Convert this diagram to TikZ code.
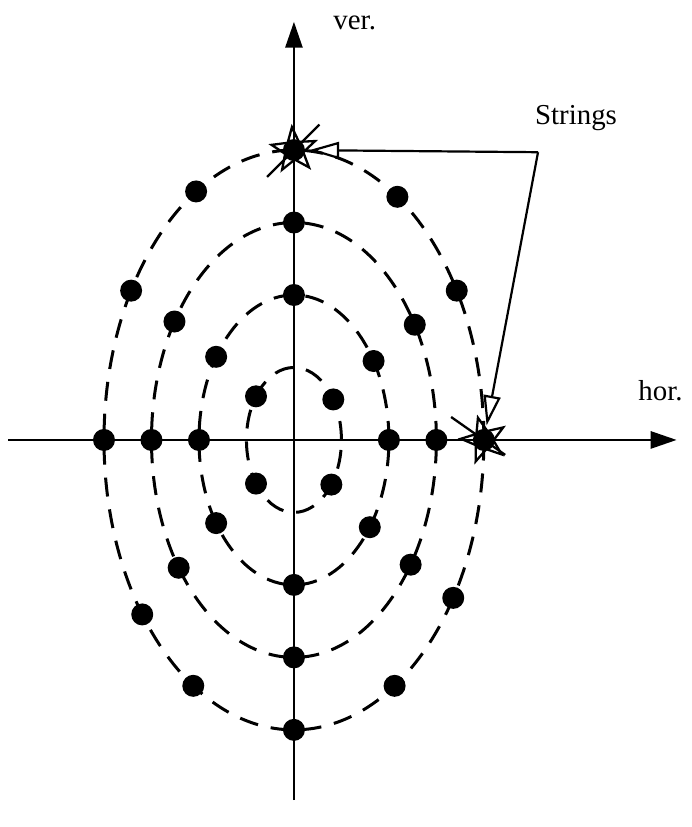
\documentclass[tikz,border=0pt]{standalone}
\usepackage{fontspec}
\setmainfont{Liberation Serif}
\usetikzlibrary{arrows.meta,calc,shapes.geometric}
\tikzset{axis/.style={-{Triangle[length=26bp,width=17bp]},line width=2.8bp},
 ring/.style={dash pattern=on 19bp off 13bp,line width=3bp},
 dot/.style={circle,fill,inner sep=0pt,minimum size=22bp},
 stringmark/.style={star,star points=5,star point ratio=2.4,draw,line width=2.3bp,
  minimum size=46bp,inner sep=0pt},
 pointer/.style={-{Triangle[open,length=30bp,width=17bp]},line width=2.2bp,shorten >=2bp},
 every node/.style={font=\fontsize{29}{34}\selectfont}}

\begin{document}
\begin{tikzpicture}[x=47.5bp,y=72.5bp]
\useasboundingbox (-6.19,-5.34) rectangle (8.38,6.07);
\foreach \k in {1,...,4}
  \draw[ring] (0,0) ellipse [x radius=\k,y radius=\k];
\draw[axis] (-6.02,0)--(8.06,0);
\draw[axis] (0,-4.97)--(0,5.77);
\node (hor) at (7.72,0.68) {hor.};
\node (ver) at (1.28,5.76) {ver.};
\node[stringmark,rotate=-67] (sv) at (90:4) {};
\node[stringmark,rotate=-57] (sh) at (0:4) {};
\draw[line width=2.3bp] ([shift={(225:38bp)}]sv.center)--([shift={(45:36bp)}]sv.center);
\draw[line width=2.3bp] ([shift={(145:40bp)}]sh.center)--([shift={(-35:26bp)}]sh.center);
\foreach \k/\t in {1/34,1/143,1/217,1/322,
  2/0,2/33,2/90,2/145,2/180,2/215,2/270,2/323,
  3/0,3/32,3/90,3/147,3/180,3/216,3/270,3/325,
  4/0,4/31,4/57,4/90,4/121,4/149,4/180,4/217,4/238,4/270,4/302,4/327}
  \node[dot] (p\k-\t) at (\t:\k) {};
\node (lbl) at (5.94,4.44) {Strings};
\coordinate (ls) at (5.14,3.97);
\draw[pointer] (ls)--(sv);
\draw[pointer] (ls)--(sh);
\end{tikzpicture}
\end{document}
